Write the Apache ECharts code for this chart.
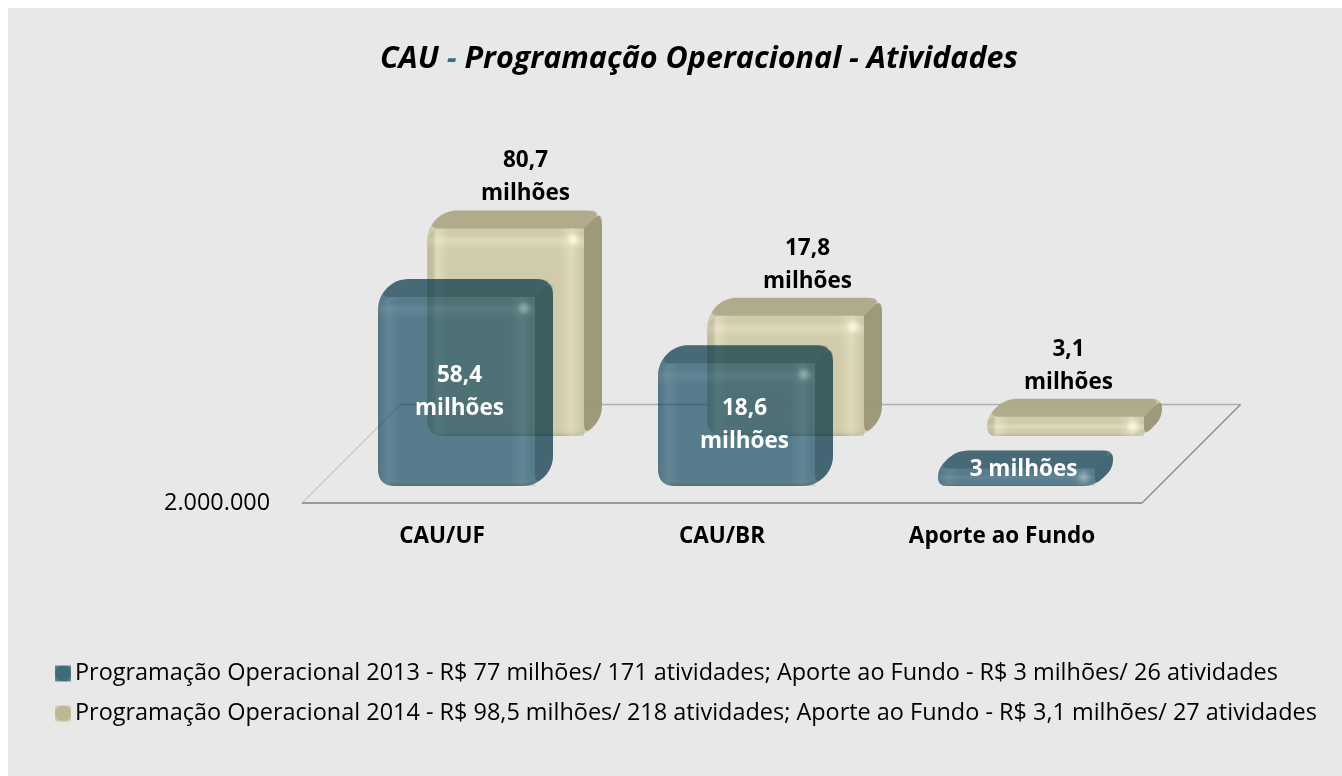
<!DOCTYPE html>
<html>
<head>
<meta charset="utf-8">
<title>CAU - Programação Operacional - Atividades</title>
<style>
html,body{margin:0;padding:0;background:#fff;overflow:hidden}
#chart{position:absolute;left:8px;top:8px;width:1334px;height:768px}
</style>
<script src="https://cdn.jsdelivr.net/npm/echarts@6/dist/echarts.min.js"></script>
</head>
<body>
<div id="chart"></div>
<script>
const categories = ['CAU/UF', 'CAU/BR', 'Aporte ao Fundo'];
const values2013 = [58400000, 18600000, 3000000];
const values2014 = [80700000, 17800000, 3100000];
const labels2013 = ['58,4\nmilhões', '18,6\nmilhões', '3 milhões'];
const labels2014 = ['80,7\nmilhões', '17,8\nmilhões', '3,1\nmilhões'];
const name2013 = 'Programação Operacional 2013 - R$ 77 milhões/ 171 atividades; Aporte ao Fundo - R$ 3 milhões/ 26 atividades';
const name2014 = 'Programação Operacional 2014 - R$ 98,5 milhões/ 218 atividades; Aporte ao Fundo - R$ 3,1 milhões/ 27 atividades';
const axisMin = 2000000;
const axisMax = 100000000;

const FONT = '"Open Sans", "Noto Sans", sans-serif';
const FACE_W = 157, DEPTH = 18, RADIUS = 17;

// layout of each row of boxes on the floor
const rowFront = { shiftX: -64, lift: 17, topLift: 11, labelDx: [ -6, -1, -2], labelInside: true };
const rowBack  = { shiftX: -15, lift: 67, topLift: 61, labelDx: [11, 13, -6], labelInside: false };

function roundPoly(pts, radii) {
  const out = [], n = pts.length;
  for (let i = 0; i < n; i++) {
    const p = pts[i], a = pts[(i + n - 1) % n], b = pts[(i + 1) % n];
    let r = radii[i];
    if (!r) { out.push(p); continue; }
    const la = Math.hypot(a[0] - p[0], a[1] - p[1]), lb = Math.hypot(b[0] - p[0], b[1] - p[1]);
    r = Math.min(r, la / 2, lb / 2);
    const s = [p[0] + (a[0] - p[0]) * r / la, p[1] + (a[1] - p[1]) * r / la];
    const e = [p[0] + (b[0] - p[0]) * r / lb, p[1] + (b[1] - p[1]) * r / lb];
    for (let k = 0; k <= 8; k++) {
      const t = k / 8, u = 1 - t;
      out.push([u * u * s[0] + 2 * u * t * p[0] + t * t * e[0], u * u * s[1] + 2 * u * t * p[1] + t * t * e[1]]);
    }
  }
  return out;
}
function linear(horizontal, stops) {
  return { type: 'linear', x: 0, y: 0, x2: horizontal ? 1 : 0, y2: horizontal ? 0 : 1,
    colorStops: stops.map(s => ({ offset: s[0], color: s[1] })) };
}

function boxRenderer(row, look, labels) {
  return function (params, api) {
    const idx = api.value(0);
    const c = api.coord([idx, api.value(1)]);
    const cs = params.coordSys;
    const base = cs.y + cs.height;
    const x0 = c[0] + row.shiftX, x1 = x0 + FACE_W;
    const yB = base - row.lift, yT = Math.min(c[1] - row.topLift, yB - 6);
    const h = yB - yT, d = DEPTH;
    const R = RADIUS;
    const shape = pts => ({ type: 'polygon', shape: { points: pts }, silent: true });
    const fill = (el, f) => { el.style = { fill: f }; return el; };
    const kids = [];
    kids.push(fill(shape(roundPoly(
      [[x0, yT], [x0 + d, yT - d], [x1 + d, yT - d], [x1 + d, yB - d], [x1, yB], [x0, yB]],
      [R, R, R, R, R, R])), look.base));
    kids.push(fill(shape(roundPoly(
      [[x0, yT], [x0 + d, yT - d], [x1 + d, yT - d], [x1, yT]], [R, R, R, 0])), look.topShade));
    kids.push(fill(shape(roundPoly(
      [[x1, yT], [x1 + d, yT - d], [x1 + d, yB - d], [x1, yB]], [0, R, R, R])), look.sideShade));
    const edge = look.band, none = look.bandNone;
    const faceOutline = roundPoly([[x0, yT], [x1, yT], [x1, yB], [x0, yB]], [R, 0, 0, R]);
    const b1 = Math.min(6 / h, .3), b2 = Math.min(12 / h, .5), b3 = Math.min(22 / h, .75);
    kids.push(fill(shape(faceOutline), linear(false, [
      [0, none], [b1, none], [b2, edge], [b3, none], [Math.max(1 - 8 / h, b3), none], [1, 'rgba(0,0,0,0.14)']])));
    kids.push(fill(shape(faceOutline), linear(true, [
      [0, 'rgba(0,0,0,0.05)'], [.06, edge], [.14, none], [.84, none], [.92, edge], [.98, none], [1, 'rgba(0,0,0,0.04)']])));
    kids.push({
      type: 'circle', silent: true,
      shape: { cx: x1 - 11, cy: yT + Math.min(11, h / 2), r: 8 },
      style: { fill: { type: 'radial', x: .5, y: .5, r: .5,
        colorStops: [{ offset: 0, color: look.spot }, { offset: 1, color: look.spotNone }] } }
    });
    const textX = (x0 + x1 + d) / 2 + row.labelDx[idx];
    kids.push({
      type: 'text', silent: true,
      style: {
        text: labels[idx], x: textX,
        y: row.labelInside ? (labels[idx].includes('\n') ? (yT + yB) / 2 + 1 : yT + 1) : yT - d,
        align: 'center',
        verticalAlign: row.labelInside ? 'middle' : 'bottom',
        fill: look.text, font: 'bold 22.5px ' + FONT, lineHeight: 33
      }
    });
    return { type: 'group', children: kids };
  };
}

const lookTeal = {
  base: 'rgba(0,60,86,0.63)', topShade: 'rgba(0,15,10,0.17)', sideShade: 'rgba(0,15,10,0.2)',
  band: 'rgba(255,255,255,0.07)', bandNone: 'rgba(255,255,255,0)',
  spot: 'rgba(215,240,235,0.4)', spotNone: 'rgba(215,240,235,0)', text: '#ffffff'
};
const lookTan = {
  base: 'rgba(207,202,168,0.96)', topShade: 'rgba(30,25,0,0.18)', sideShade: 'rgba(30,25,0,0.28)',
  band: 'rgba(255,252,225,0.3)', bandNone: 'rgba(255,252,225,0)',
  spot: 'rgba(255,255,235,0.85)', spotNone: 'rgba(255,255,235,0)', text: '#000000'
};

function floorRenderer(params) {
  const g = params.coordSys, d = 98.5;
  const l = g.x, r = g.x + g.width, b = g.y + g.height, t = b - d;
  const seg = (x1, y1, x2, y2, color, w) => ({
    type: 'line', silent: true, shape: { x1, y1, x2, y2 }, style: { stroke: color, lineWidth: w }
  });
  return { type: 'group', children: [
    seg(l, b, l + d, t, '#c8c8c8', 1.2),
    seg(l + d, t, r + d, t, '#adadad', 1.5),
    seg(r + d, t, r, b, '#8c8c8c', 1.5),
    seg(l, b, r, b, '#999999', 1.8)
  ] };
}

const toRows = vals => vals.map((v, i) => [i, v]);
const legendIcon = (mid, edge) => ({ type: 'radial', x: .5, y: .5, r: .72,
  colorStops: [{ offset: 0, color: mid }, { offset: .6, color: mid }, { offset: 1, color: edge }] });

const chart = echarts.init(document.getElementById('chart'));
chart.setOption({
  animation: false,
  backgroundColor: '#e8e8e8',
  textStyle: { fontFamily: FONT },
  title: {
    text: '{a|CAU }{d|- }{a|Programação Operacional - Atividades}',
    left: 686, top: 31, textAlign: 'center',
    textStyle: {
      rich: {
        a: { fontFamily: FONT, fontSize: 30.5, fontWeight: 'bold', fontStyle: 'italic', color: '#000' },
        d: { fontFamily: FONT, fontSize: 30.5, fontWeight: 'bold', fontStyle: 'italic', color: '#33707f' }
      }
    }
  },
  legend: {
    orient: 'vertical', left: 47, top: 654,
    itemWidth: 16, itemHeight: 16, itemGap: 17, padding: 0,
    textStyle: { fontFamily: FONT, fontSize: 23.45, color: '#000', padding: [0, 0, 0, -1] },
    selectedMode: false,
    data: [
      { name: name2013, icon: 'rect', itemStyle: { color: legendIcon('#3f6a7a', '#7a9aa6') } },
      { name: name2014, icon: 'rect', itemStyle: { color: legendIcon('#bdb894', '#e6e2c8') } }
    ]
  },
  grid: { left: 294, top: 269, width: 840, height: 226, containLabel: false },
  xAxis: {
    type: 'category', data: categories,
    axisLine: { show: false }, axisTick: { show: false }, splitLine: { show: false },
    axisLabel: { fontFamily: FONT, fontSize: 22.5, fontWeight: 'bold', color: '#000', margin: 22 }
  },
  yAxis: {
    type: 'log', logBase: 10, min: axisMin, max: axisMax,
    axisLine: { show: false }, axisTick: { show: false }, splitLine: { show: false }, minorTick: { show: false },
    axisLabel: {
      fontFamily: FONT, fontSize: 23.4, color: '#000', margin: 32,
      customValues: [axisMin],
      formatter: v => Math.round(v).toLocaleString('pt-BR')
    }
  },
  series: [
    { type: 'custom', name: 'floor', data: [[0, axisMin]], renderItem: floorRenderer, clip: false, silent: true },
    { type: 'custom', name: name2014, data: toRows(values2014), renderItem: boxRenderer(rowBack, lookTan, labels2014), clip: false, silent: true },
    { type: 'custom', name: name2013, data: toRows(values2013), renderItem: boxRenderer(rowFront, lookTeal, labels2013), clip: false, silent: true }
  ]
});
</script>
</body>
</html>
